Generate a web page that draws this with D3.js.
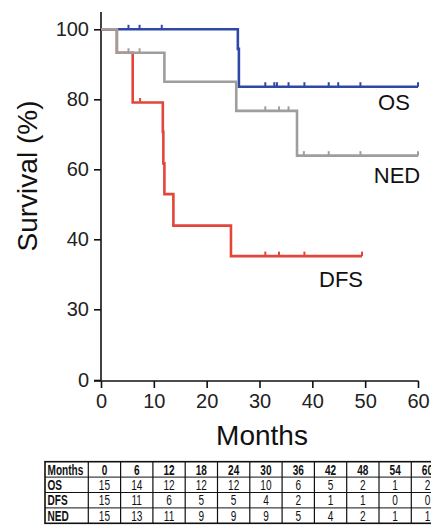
<!DOCTYPE html>
<html>
<head>
<meta charset="utf-8">
<script src="https://cdn.jsdelivr.net/npm/d3@7"></script>
<style>
  body { margin: 0; background: #fff; }
  svg { display: block; font-family: "Liberation Sans", Arial, sans-serif; }
  .tbl text { font-family: "Liberation Sans", Arial, sans-serif; font-size: 14px; fill: #111; }
</style>
</head>
<body>
<div id="chart"></div>
<script>
// survival steps: [month, survival %]
const osSteps = [[0, 100], [25.9, 94.4], [26.1, 83.6]];
const dfsSteps = [[0, 100], [3, 93.3], [6, 79.1], [11.7, 70.7], [11.8, 61.7], [12, 52.9], [13.7, 43.9], [24.6, 37.6]];
const nedSteps = [[0, 100], [3, 93.3], [12, 85], [25.6, 76.7], [37.1, 63.9]];

const osEnd = 60, dfsEnd = 49.4, nedEnd = 60;

// censored observations (months)
const osCensor = [5.2, 7.3, 11.5, 31.1, 32.8, 33.3, 35.5, 38.5, 43.1, 44.9, 49.1, 60];
const dfsCensor = [7.4, 31.1, 33.7, 38.5, 49.4];
const nedCensor = [5.2, 7.3, 31.1, 33.7, 35.5, 38.4, 43.1, 49.1, 60];

const yTicks = [0, 30, 40, 60, 80, 100];
const xTicks = [0, 10, 20, 30, 40, 50, 60];

// numbers at risk
const riskMonths = [0, 6, 12, 18, 24, 30, 36, 42, 48, 54, 60];
const riskOS = [15, 14, 12, 12, 12, 10, 6, 5, 2, 1, 2];
const riskDFS = [15, 11, 6, 5, 5, 4, 2, 1, 1, 0, 0];
const riskNED = [15, 13, 11, 9, 9, 9, 5, 4, 2, 1, 1];

const svg = d3.select("#chart").append("svg")
  .attr("width", 431)
  .attr("height", 525);

const x = d3.scaleLinear().domain([0, 60]).range([101, 418]);
// axis labels are evenly spaced in the original figure
const y = d3.scaleLinear().domain(yTicks).range([380, 309.3, 239.3, 169.3, 99.3, 29.3]);

const curves = [
  { name: "OS", steps: osSteps, end: osEnd, censor: osCensor, color: "#2f48a6", lx: 394, ly: 110 },
  { name: "DFS", steps: dfsSteps, end: dfsEnd, censor: dfsCensor, color: "#e2463a", lx: 341, ly: 287 },
  { name: "NED", steps: nedSteps, end: nedEnd, censor: nedCensor, color: "#9e9e9e", lx: 397, ly: 183 }
];

function survAt(steps, t) {
  let s = steps[0][1];
  steps.forEach(d => { if (d[0] <= t) s = d[1]; });
  return s;
}

function stepPath(c) {
  const pts = c.steps.map(d => [x(d[0]), y(d[1])]);
  pts.push([x(c.end), y(c.steps[c.steps.length - 1][1])]);
  return d3.line().curve(d3.curveStepAfter)(pts);
}

// axes
const yAxis = svg.append("g")
  .attr("transform", "translate(101,0)")
  .call(d3.axisLeft(y).tickValues(yTicks).tickSize(7).tickPadding(5));
yAxis.select(".domain").attr("d", "M0,12V380.5");

const xAxis = svg.append("g")
  .attr("transform", "translate(0,381)")
  .call(d3.axisBottom(x).tickValues(xTicks).tickSize(7).tickPadding(6));
xAxis.select(".domain").attr("d", "M94,0H418.5");

svg.selectAll(".tick text").attr("font-size", 20).attr("fill", "#222").attr("font-family", "Liberation Sans, Arial, sans-serif");
svg.selectAll(".domain, .tick line").attr("stroke", "#111").attr("stroke-width", 1.6);

svg.append("text")
  .attr("x", 262)
  .attr("y", 445)
  .attr("text-anchor", "middle")
  .attr("font-size", 28)
  .attr("fill", "#111")
  .text("Months");

svg.append("text")
  .attr("transform", "translate(37,176) rotate(-90)")
  .attr("text-anchor", "middle")
  .attr("font-size", 28)
  .attr("fill", "#111")
  .text("Survival (%)");

// curves, gray drawn last
curves.forEach(c => {
  const g = svg.append("g");
  g.append("path")
    .attr("d", stepPath(c))
    .attr("fill", "none")
    .attr("stroke", c.color)
    .attr("stroke-width", 2.6);
  g.selectAll("line")
    .data(c.censor)
    .join("line")
    .attr("x1", d => x(d))
    .attr("x2", d => x(d))
    .attr("y1", d => y(survAt(c.steps, d)) - 4.5)
    .attr("y2", d => y(survAt(c.steps, d)))
    .attr("stroke", c.color)
    .attr("stroke-width", 2);
  svg.append("text")
    .attr("x", c.lx)
    .attr("y", c.ly)
    .attr("text-anchor", "middle")
    .attr("font-size", 22)
    .attr("fill", "#111")
    .text(c.name);
});

// risk table
const rows = [["Months", riskMonths], ["OS", riskOS], ["DFS", riskDFS], ["NED", riskNED]];
const tx0 = 45, firstW = 43.3, colW = 32.3, ty0 = 461.7, rowH = 15.4;
const tbl = svg.append("g").attr("class", "tbl");
const squeeze = 0.72;

rows.forEach((r, i) => {
  const yy = ty0 + i * rowH;
  tbl.append("text")
    .attr("transform", `translate(${tx0 + 2.5},${yy + rowH - 2.6}) scale(${squeeze},1)`)
    .attr("font-weight", "bold")
    .text(r[0]);
  tbl.selectAll(null)
    .data(r[1])
    .join("text")
    .attr("transform", (d, j) => `translate(${tx0 + firstW + colW * j + colW / 2},${yy + rowH - 2.6}) scale(${squeeze},1)`)
    .attr("text-anchor", "middle")
    .attr("font-weight", i === 0 ? "bold" : "normal")
    .text(d => d);
});

const tw = firstW + colW * riskMonths.length;
for (let i = 1; i < rows.length; i++) {
  tbl.append("line")
    .attr("x1", tx0).attr("x2", tx0 + tw)
    .attr("y1", ty0 + i * rowH).attr("y2", ty0 + i * rowH)
    .attr("stroke", "#111").attr("stroke-width", 1);
}
for (let j = 0; j < riskMonths.length; j++) {
  const xx = tx0 + firstW + colW * j;
  tbl.append("line")
    .attr("x1", xx).attr("x2", xx)
    .attr("y1", ty0).attr("y2", ty0 + rows.length * rowH)
    .attr("stroke", "#111").attr("stroke-width", 1.2);
}
tbl.append("rect")
  .attr("x", tx0).attr("y", ty0)
  .attr("width", tw).attr("height", rows.length * rowH)
  .attr("fill", "none")
  .attr("stroke", "#111")
  .attr("stroke-width", 1.6);
</script>
</body>
</html>
